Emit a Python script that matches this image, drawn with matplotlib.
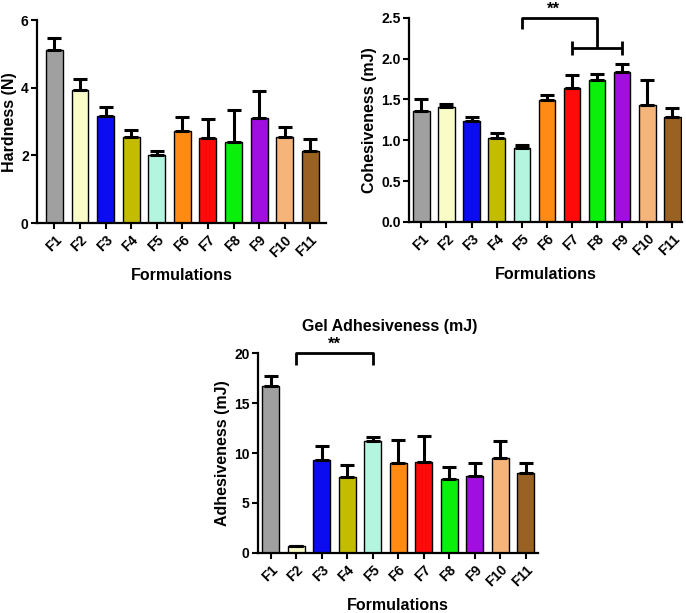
import numpy as np
import matplotlib
matplotlib.use("Agg")
import matplotlib.pyplot as plt

# ==========================================
# Data
# ==========================================
formulations = ["F1", "F2", "F3", "F4", "F5", "F6", "F7", "F8", "F9", "F10", "F11"]

hardness = [5.13, 3.95, 3.17, 2.56, 2.02, 2.72, 2.53, 2.41, 3.12, 2.56, 2.13]
hardness_err = [0.33, 0.32, 0.25, 0.19, 0.12, 0.43, 0.54, 0.93, 0.80, 0.27, 0.35]

cohesiveness = [1.36, 1.41, 1.23, 1.03, 0.90, 1.49, 1.64, 1.74, 1.83, 1.43, 1.29]
cohesiveness_err = [0.15, 0.04, 0.05, 0.06, 0.04, 0.06, 0.16, 0.07, 0.11, 0.31, 0.10]

adhesiveness = [16.67, 0.67, 9.33, 7.57, 11.23, 9.00, 9.13, 7.39, 7.72, 9.48, 7.99]
adhesiveness_err = [1.06, 0.06, 1.34, 1.26, 0.34, 2.33, 2.60, 1.20, 1.27, 1.77, 1.00]

bar_colors = ["#a0a0a0", "#fafcc8", "#0c0cf0", "#c4bc00", "#b4f5e0", "#ff8a14",
              "#ff0a0a", "#0af00a", "#a00ee0", "#f4b47a", "#9a6222"]

# ==========================================
# Style
# ==========================================
plt.rcParams['font.family'] = ['Liberation Sans', 'DejaVu Sans']
plt.rcParams['font.weight'] = 'bold'
plt.rcParams['axes.labelweight'] = 'bold'
plt.rcParams['axes.linewidth'] = 1.6


def bar_panel(ax, values, errors, ymax, yticks, ylabel, xlim, ticklabels_fmt):
    x = np.arange(len(formulations))
    ax.bar(x, values, width=0.66, color=bar_colors, edgecolor='black', linewidth=1.0, zorder=2)
    ax.errorbar(x, values, yerr=[np.zeros(len(values)), errors], fmt='none',
                ecolor='black', elinewidth=2.2, capsize=5, capthick=2.2, zorder=3)
    ax.set_xlim(*xlim)
    ax.set_ylim(0, ymax)
    ax.set_yticks(yticks)
    ax.set_yticklabels([ticklabels_fmt.format(t) for t in yticks], fontsize=10, fontweight='bold')
    ax.set_xticks(x)
    ax.set_xticklabels(formulations, rotation=45, ha='right', rotation_mode='anchor',
                       fontsize=10, fontweight='bold')
    ax.tick_params(axis='both', direction='out', length=4, width=1.5, pad=2)
    ax.tick_params(axis='x', pad=3)
    for side in ['top', 'right']:
        ax.spines[side].set_visible(False)
    ax.set_xlabel('Formulations', fontsize=11.5, fontweight='bold', labelpad=6)
    ax.set_ylabel(ylabel, fontsize=11.5, fontweight='bold', labelpad=3)


fig = plt.figure(figsize=(6.86, 6.13), dpi=100)

# Hardness
ax1 = fig.add_axes([0.054, 0.636, 0.421, 0.331])
bar_panel(ax1, hardness, hardness_err, 6, [0, 2, 4, 6], 'Hardness (N)', (-0.68, 10.61), '{:g}')

# Cohesiveness
ax2 = fig.add_axes([0.596, 0.638, 0.398, 0.333])
bar_panel(ax2, cohesiveness, cohesiveness_err, 2.5, [0, 0.5, 1.0, 1.5, 2.0, 2.5],
          'Cohesiveness (mJ)', (-0.5, 10.38), '{:.1f}')
# significance bracket: F5 vs F7-F9
bk = dict(color='black', lw=2.0, clip_on=False, solid_capstyle='butt')
ax2.plot([4, 4, 7, 7], [2.36, 2.5, 2.5, 2.13], **bk)
ax2.plot([6, 8], [2.13, 2.13], **bk)
ax2.plot([6, 6], [2.05, 2.21], **bk)
ax2.plot([8, 8], [2.05, 2.21], **bk)
ax2.text(5.25, 2.70, '**', ha='center', va='top', fontsize=12, fontweight='bold')

# Adhesiveness
ax3 = fig.add_axes([0.376, 0.098, 0.408, 0.326])
bar_panel(ax3, adhesiveness, adhesiveness_err, 20, [0, 5, 10, 15, 20],
          'Adhesiveness (mJ)', (-0.5, 10.47), '{:g}')
ax3.plot([1, 1, 4, 4], [18.8, 20, 20, 18.8], **bk)
ax3.text(2.5, 20.1, '**', ha='center', va='bottom', fontsize=12, fontweight='bold')
ax3.set_title('Gel Adhesiveness (mJ)', fontsize=11.5, fontweight='bold', pad=16, x=0.47)

fig.savefig('out.png', dpi=100)
